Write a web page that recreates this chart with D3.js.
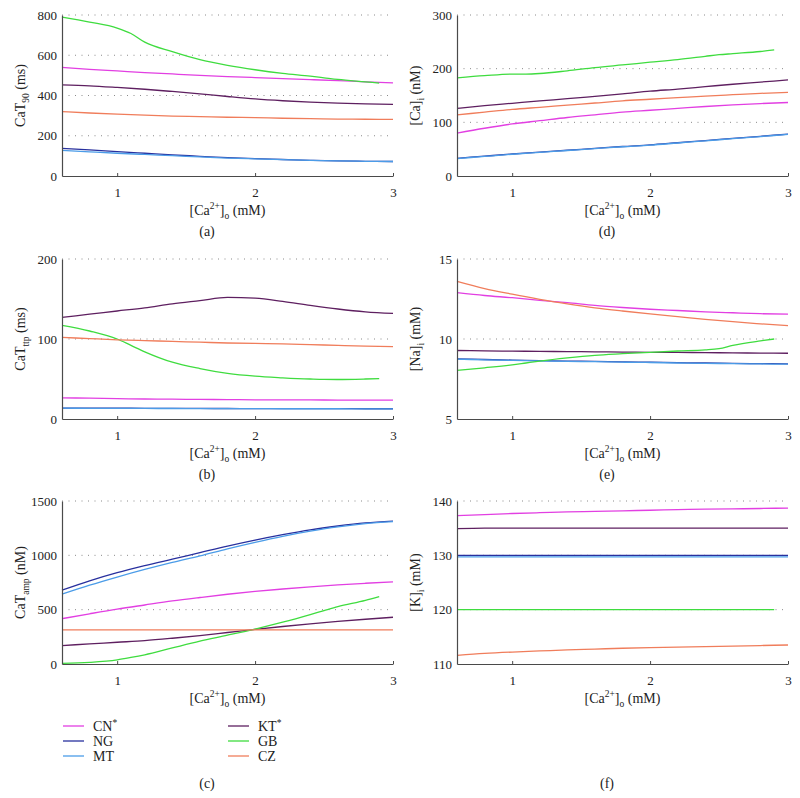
<!DOCTYPE html>
<html>
<head>
<meta charset="utf-8">
<script src="https://cdn.jsdelivr.net/npm/d3@7"></script>
<style>
  body { margin: 0; background: #fff; }
  svg { display: block; }
  svg text { font-family: "Liberation Serif", "DejaVu Serif", "Times New Roman", serif; fill: #222; }
</style>
</head>
<body>
<svg id="fig" width="800" height="798"></svg>
<script>
// extracellular calcium, common grid and the GB grid (GB stops at 2.9)
const caO = [0.6, 0.8, 1.0, 1.2, 1.4, 1.6, 1.8, 2.0, 2.2, 2.4, 2.6, 2.8, 3.0];
const caO_GB = [0.6, 0.8, 1.0, 1.1, 1.2, 1.4, 1.6, 1.8, 2.0, 2.2, 2.4, 2.5, 2.6, 2.8, 2.9];

const models = ['CN', 'NG', 'MT', 'KT', 'GB', 'CZ'];
const starred = ['CN', 'KT'];
const colors = {
  CN: '#e23fe2',
  NG: '#28309e',
  MT: '#4b9ce8',
  KT: '#5e1f60',
  GB: '#3fdc3f',
  CZ: '#f07d5b',
};

// (a) CaT90 (ms)
const caT90 = {
  CN: [540, 530, 522, 514, 507, 500, 494, 489, 484, 479, 474, 468, 463],
  NG: [137, 130, 121, 113, 105, 98, 91, 86, 82, 78, 75, 73, 72],
  MT: [127, 120, 113, 107, 101, 95, 89, 85, 81, 78, 75, 73, 72],
  KT: [453, 448, 440, 431, 420, 408, 395, 383, 374, 367, 362, 358, 356],
  GB: [790, 765, 735, 708, 665, 618, 578, 550, 528, 510, 496, 488, 480, 468, 462],
  CZ: [320, 313, 307, 302, 298, 295, 292, 290, 287, 285, 283, 282, 281],
};
// (b) CaTttp (ms)
const caTttp = {
  CN: [26.5, 26, 25.5, 25, 24.8, 24.5, 24.3, 24, 24, 23.8, 23.7, 23.5, 23.5],
  NG: [13.7, 13.6, 13.5, 13.4, 13.3, 13.2, 13.1, 13, 13, 12.9, 12.9, 12.8, 12.8],
  MT: [13.5, 13.4, 13.3, 13.2, 13.1, 13.0, 12.9, 12.9, 12.8, 12.8, 12.8, 12.7, 12.7],
  KT: [127, 131, 135, 139, 144, 148, 152, 151, 147, 142, 137.5, 134, 132],
  GB: [117, 110, 100, 92, 84, 71, 63, 57, 53.5, 51.5, 50, 49.5, 49.4, 50, 50.5],
  CZ: [102, 100.5, 99, 98, 97, 96, 95, 94.5, 94, 93, 92, 91, 90.5],
};
// (c) CaTamp (nM)
const caTamp = {
  CN: [417, 462, 505, 543, 580, 612, 642, 668, 690, 710, 728, 743, 756],
  NG: [679, 765, 840, 905, 965, 1025, 1085, 1140, 1190, 1235, 1270, 1298, 1315],
  MT: [642, 725, 800, 870, 935, 995, 1060, 1120, 1175, 1222, 1262, 1292, 1310],
  KT: [170, 185, 200, 215, 237, 262, 290, 318, 345, 370, 392, 412, 430],
  GB: [5, 15, 38, 60, 85, 148, 210, 265, 322, 385, 455, 492, 528, 585, 620],
  CZ: [314, 314, 314, 314, 314, 314, 314, 314, 314, 314, 314, 314, 314],
};
// (d) [Ca]i (nM)
const caI = {
  CN: [80, 89, 97, 103, 109, 114, 119, 122.5, 126, 129.5, 132.5, 135, 137],
  NG: [33, 37, 41, 44.5, 48, 51.5, 55, 58, 62, 66, 70, 74, 78],
  MT: [32.5, 36.5, 40.5, 44, 47.5, 51, 54.5, 57.5, 61.5, 65.5, 69.5, 73.5, 77.5],
  KT: [126, 131, 135.5, 140, 144, 148.5, 153, 158, 162, 166.5, 171, 175, 179],
  GB: [183, 187, 190, 190, 191, 196, 202, 207, 212, 217, 223, 226, 228, 232, 235],
  CZ: [114, 119, 124, 128, 132, 136, 140, 143, 146, 149, 151.5, 154, 156],
};
// (e) [Na]i (mM)
const naI = {
  CN: [12.9, 12.72, 12.58, 12.42, 12.27, 12.1, 11.97, 11.86, 11.78, 11.7, 11.64, 11.58, 11.55],
  NG: [8.76, 8.72, 8.68, 8.65, 8.62, 8.6, 8.57, 8.55, 8.52, 8.5, 8.48, 8.46, 8.45],
  MT: [8.74, 8.7, 8.66, 8.63, 8.6, 8.58, 8.55, 8.53, 8.5, 8.48, 8.46, 8.44, 8.43],
  KT: [9.28, 9.26, 9.24, 9.23, 9.21, 9.2, 9.18, 9.17, 9.16, 9.15, 9.13, 9.12, 9.11],
  GB: [8.04, 8.2, 8.38, 8.5, 8.62, 8.82, 8.98, 9.08, 9.17, 9.25, 9.32, 9.4, 9.6, 9.88, 10.0],
  CZ: [13.6, 13.15, 12.8, 12.48, 12.2, 11.95, 11.75, 11.57, 11.4, 11.23, 11.08, 10.95, 10.83],
};
// (f) [K]i (mM)
const kI = {
  CN: [137.3, 137.5, 137.7, 137.85, 138, 138.1, 138.2, 138.3, 138.4, 138.5, 138.55, 138.62, 138.7],
  NG: [130, 130, 130, 130, 130, 130, 130, 130, 130, 130, 130, 130, 130],
  MT: [129.7, 129.7, 129.7, 129.7, 129.7, 129.7, 129.7, 129.7, 129.7, 129.7, 129.7, 129.7, 129.7],
  KT: [134.9, 135, 135, 135, 135, 135, 135, 135, 135, 135, 135, 135, 135],
  GB: [120, 120, 120, 120, 120, 120, 120, 120, 120, 120, 120, 120, 120, 120, 120],
  CZ: [111.6, 111.95, 112.2, 112.4, 112.6, 112.75, 112.9, 113, 113.1, 113.2, 113.3, 113.4, 113.5],
};

const xTicks = [1, 2, 3];

const cols = [{ x0: 62, x1: 393, mid: 207 }, { x0: 457, x1: 788, mid: 607 }];
const rows = [{ y0: 15, y1: 176 }, { y0: 259, y1: 419 }, { y0: 501, y1: 664 }];

const panels = [
  { tag: '(a)', col: 0, row: 0, data: caT90, domain: [0, 800], ticks: [0, 200, 400, 600, 800], label: ['CaT', '90', ' (ms)'] },
  { tag: '(d)', col: 1, row: 0, data: caI, domain: [0, 300], ticks: [0, 100, 200, 300], label: ['[Ca]', 'i', ' (nM)'] },
  { tag: '(b)', col: 0, row: 1, data: caTttp, domain: [0, 200], ticks: [0, 100, 200], label: ['CaT', 'ttp', ' (ms)'] },
  { tag: '(e)', col: 1, row: 1, data: naI, domain: [5, 15], ticks: [5, 10, 15], label: ['[Na]', 'i', ' (mM)'] },
  { tag: '(c)', col: 0, row: 2, data: caTamp, domain: [0, 1500], ticks: [0, 500, 1000, 1500], label: ['CaT', 'amp', ' (nM)'] },
  { tag: '(f)', col: 1, row: 2, data: kI, domain: [110, 140], ticks: [110, 120, 130, 140], label: ['[K]', 'i', ' (mM)'] },
];

const serif = '"Liberation Serif", "DejaVu Serif", "Times New Roman", serif';
const svg = d3.select('#fig');
const axisColor = '#4a4a4a';

panels.forEach(p => {
  const c = cols[p.col];
  const r = rows[p.row];

  const x = d3.scaleLinear().domain([0.6, 3]).range([c.x0, c.x1]);
  const y = d3.scaleLinear().domain(p.domain).range([r.y1, r.y0]);

  const g = svg.append('g');

  // dotted grid lines
  g.selectAll('.grid')
    .data(p.ticks.slice(1))
    .enter()
    .append('line')
    .attr('x1', c.x0)
    .attr('x2', c.x1)
    .attr('y1', d => y(d))
    .attr('y2', d => y(d))
    .attr('stroke', '#8a8a8a')
    .attr('stroke-width', 1)
    .attr('stroke-dasharray', '1,5.5');

  // model curves
  const line = d3.line()
    .x(d => x(d[0]))
    .y(d => y(d[1]))
    .curve(d3.curveMonotoneX);

  models.forEach(m => {
    const xs = m === 'GB' ? caO_GB : caO;
    const pts = xs.map((v, i) => [v, p.data[m][i]]);
    g.append('path')
      .datum(pts)
      .attr('d', line)
      .attr('fill', 'none')
      .attr('stroke', colors[m])
      .attr('stroke-width', 1.3);
  });

  // x axis, ticks pointing inward
  const xAxis = g.append('g')
    .attr('transform', 'translate(0,' + r.y1 + ')')
    .call(d3.axisBottom(x).tickValues(xTicks).tickSizeInner(-3).tickSizeOuter(0).tickPadding(12).tickFormat(d3.format('d')));
  xAxis.attr('font-family', serif);
  xAxis.select('.domain').attr('stroke', axisColor).attr('stroke-width', 1.2);
  xAxis.selectAll('.tick line').attr('stroke', axisColor);
  xAxis.selectAll('.tick text')
    .style('font-size', '13px')
    .style('font-family', serif)
    .attr('fill', '#222');

  // y axis
  const yAxis = g.append('g')
    .attr('transform', 'translate(' + c.x0 + ',0)')
    .call(d3.axisLeft(y).tickValues(p.ticks).tickSize(0).tickPadding(5).tickFormat(d3.format('d')));
  yAxis.attr('font-family', serif);
  yAxis.select('.domain').attr('stroke', axisColor).attr('stroke-width', 1.2);
  yAxis.selectAll('.tick text')
    .style('font-size', '13px')
    .style('font-family', serif)
    .attr('fill', '#222');

  // y label
  const yl = g.append('text')
    .attr('transform', 'translate(' + (c.x0 - 37) + ',' + (r.y0 + r.y1) / 2 + ') rotate(-90)')
    .attr('text-anchor', 'middle')
    .style('font-family', serif)
    .style('font-size', '14px');
  yl.append('tspan').text(p.label[0]);
  yl.append('tspan').text(p.label[1]).attr('dy', 4).style('font-size', '9.5px');
  yl.append('tspan').text(p.label[2]).attr('dy', -4);

  // x label
  const xl = g.append('text')
    .attr('x', (c.x0 + c.x1) / 2)
    .attr('y', r.y1 + 39)
    .attr('text-anchor', 'middle')
    .style('font-family', serif)
    .style('font-size', '14px');
  xl.append('tspan').text('[Ca');
  xl.append('tspan').text('2+').attr('dy', -6).style('font-size', '9.5px');
  xl.append('tspan').text(']').attr('dy', 6);
  xl.append('tspan').text('o').attr('dy', 4).style('font-size', '9.5px');
  xl.append('tspan').text(' (mM)').attr('dy', -4);

  // panel tag
  g.append('text')
    .attr('x', c.mid)
    .attr('y', p.row === 2 ? 788 : r.y1 + 60)
    .attr('text-anchor', 'middle')
    .style('font-family', serif)
    .style('font-size', '14px')
    .text(p.tag);
});

// legend
const legendRows = [726, 741, 756];
const legendCols = [63, 228];
models.forEach((m, i) => {
  const col = i < 3 ? 0 : 1;
  const row = i % 3;
  const lx = legendCols[col];
  const ly = legendRows[row];
  svg.append('line')
    .attr('x1', lx)
    .attr('x2', lx + 21)
    .attr('y1', ly)
    .attr('y2', ly)
    .attr('stroke', colors[m])
    .attr('stroke-width', 1.3);
  const t = svg.append('text')
    .attr('x', lx + 30)
    .attr('y', ly + 5)
    .style('font-family', serif)
    .style('font-size', '14px');
  t.append('tspan').text(m);
  if (starred.indexOf(m) >= 0) {
    t.append('tspan').text('*').attr('dy', -5).style('font-size', '9.5px');
  }
});
</script>
</body>
</html>
